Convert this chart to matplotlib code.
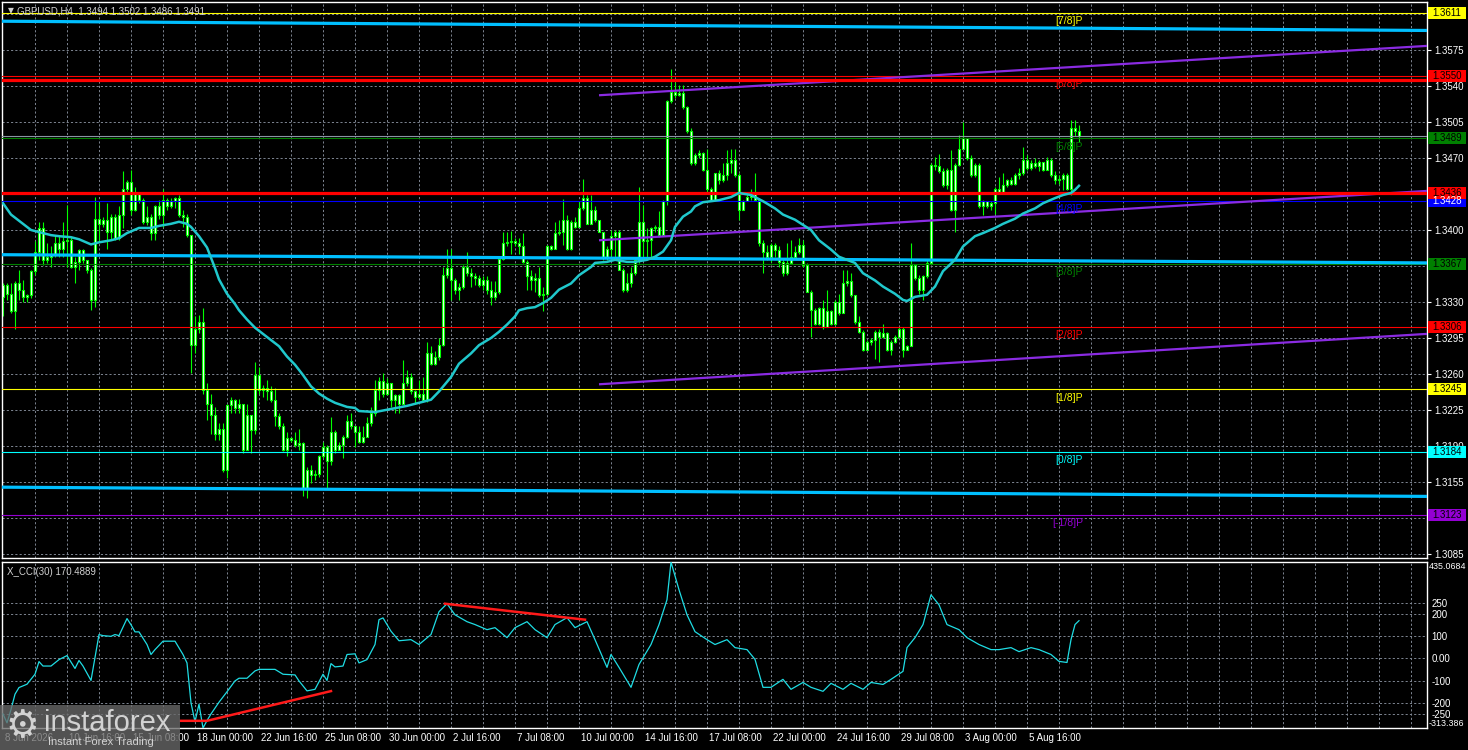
import numpy as np
import matplotlib
matplotlib.use("Agg")
import matplotlib.pyplot as plt
from matplotlib.patches import Rectangle
from matplotlib.transforms import blended_transform_factory

plt.rcParams['font.family'] = ['Liberation Sans', 'DejaVu Sans']

W, H = 1468, 750
GREEN = "#00ff00"
GRID = "#7d8591"

# GBPUSD H4 candles, bar 0 = 8 Jun 2026 00:00
first_open = 1.3335
closes = [
    1.3347, 1.3338, 1.3321, 1.3348, 1.3342, 1.3335, 1.3337, 1.3360, 1.3379, 1.3402,
    1.3371, 1.3374, 1.3377, 1.3387, 1.3382, 1.3389, 1.3390, 1.3364, 1.3369, 1.3381,
    1.3371, 1.3361, 1.3332, 1.3411, 1.3406, 1.3410, 1.3398, 1.3413, 1.3392, 1.3415,
    1.3440, 1.3447, 1.3419, 1.3436, 1.3429, 1.3408, 1.3413, 1.3397, 1.3423, 1.3415,
    1.3429, 1.3423, 1.3428, 1.3431, 1.3415, 1.3413, 1.3395, 1.3288, 1.3304, 1.3311,
    1.3244, 1.3231, 1.3220, 1.3202, 1.3207, 1.3167, 1.3230, 1.3235, 1.3227, 1.3231,
    1.3186, 1.3220, 1.3206, 1.3259, 1.3244, 1.3246, 1.3243, 1.3235, 1.3219, 1.3209,
    1.3186, 1.3198, 1.3196, 1.3191, 1.3193, 1.3149, 1.3167, 1.3162, 1.3163, 1.3180,
    1.3189, 1.3175, 1.3204, 1.3186, 1.3191, 1.3199, 1.3214, 1.3209, 1.3204, 1.3194,
    1.3199, 1.3212, 1.3222, 1.3244, 1.3253, 1.3241, 1.3251, 1.3235, 1.3240, 1.3231,
    1.3251, 1.3257, 1.3243, 1.3238, 1.3241, 1.3235, 1.3280, 1.3270, 1.3277, 1.3288,
    1.3356, 1.3363, 1.3351, 1.3342, 1.3345, 1.3364, 1.3358, 1.3355, 1.3353, 1.3347,
    1.3351, 1.3342, 1.3335, 1.3340, 1.3372, 1.3387, 1.3388, 1.3389, 1.3387, 1.3384,
    1.3369, 1.3355, 1.3351, 1.3353, 1.3337, 1.3338, 1.3384, 1.3382, 1.3397, 1.3398,
    1.3410, 1.3382, 1.3408, 1.3403, 1.3421, 1.3431, 1.3406, 1.3419, 1.3410, 1.3398,
    1.3374, 1.3382, 1.3394, 1.3398, 1.3361, 1.3342, 1.3348, 1.3358, 1.3371, 1.3408,
    1.3389, 1.3390, 1.3402, 1.3403, 1.3395, 1.3428, 1.3525, 1.3534, 1.3531, 1.3533,
    1.3520, 1.3496, 1.3465, 1.3473, 1.3475, 1.3458, 1.3440, 1.3429, 1.3455, 1.3449,
    1.3453, 1.3465, 1.3468, 1.3453, 1.3419, 1.3428, 1.3432, 1.3437, 1.3429, 1.3387,
    1.3379, 1.3374, 1.3385, 1.3381, 1.3369, 1.3358, 1.3368, 1.3374, 1.3379, 1.3385,
    1.3366, 1.3340, 1.3322, 1.3309, 1.3324, 1.3306, 1.3321, 1.3309, 1.3330, 1.3319,
    1.3348, 1.3350, 1.3337, 1.3311, 1.3301, 1.3283, 1.3291, 1.3293, 1.3301, 1.3296,
    1.3300, 1.3283, 1.3291, 1.3296, 1.3304, 1.3283, 1.3287, 1.3366, 1.3353, 1.3342,
    1.3355, 1.3368, 1.3463, 1.3462, 1.3457, 1.3444, 1.3458, 1.3419, 1.3463, 1.3479,
    1.3489, 1.3470, 1.3453, 1.3463, 1.3423, 1.3428, 1.3423, 1.3426, 1.3440, 1.3437,
    1.3444, 1.3449, 1.3445, 1.3453, 1.3455, 1.3468, 1.3460, 1.3465, 1.3462, 1.3466,
    1.3458, 1.3468, 1.3453, 1.3449, 1.3450, 1.3453, 1.3440, 1.3499, 1.3496, 1.3491,
]
highs = [
    1.3348, 1.3348, 1.3348, 1.3350, 1.3361, 1.3351, 1.3338, 1.3361, 1.3389, 1.3408,
    1.3408, 1.3387, 1.3384, 1.3395, 1.3395, 1.3408, 1.3424, 1.3393, 1.3374, 1.3382,
    1.3382, 1.3371, 1.3363, 1.3432, 1.3427, 1.3413, 1.3426, 1.3416, 1.3416, 1.3423,
    1.3457, 1.3449, 1.3458, 1.3442, 1.3437, 1.3431, 1.3423, 1.3416, 1.3424, 1.3429,
    1.3440, 1.3431, 1.3431, 1.3432, 1.3434, 1.3419, 1.3416, 1.3395, 1.3316, 1.3317,
    1.3324, 1.3251, 1.3241, 1.3228, 1.3212, 1.3212, 1.3231, 1.3238, 1.3236, 1.3236,
    1.3231, 1.3231, 1.3218, 1.3272, 1.3267, 1.3249, 1.3254, 1.3248, 1.3246, 1.3222,
    1.3212, 1.3204, 1.3199, 1.3204, 1.3207, 1.3194, 1.3170, 1.3172, 1.3167, 1.3181,
    1.3194, 1.3191, 1.3218, 1.3206, 1.3194, 1.3201, 1.3220, 1.3222, 1.3209, 1.3209,
    1.3209, 1.3218, 1.3228, 1.3254, 1.3257, 1.3261, 1.3256, 1.3248, 1.3241, 1.3241,
    1.3274, 1.3264, 1.3261, 1.3244, 1.3254, 1.3257, 1.3291, 1.3287, 1.3282, 1.3295,
    1.3364, 1.3382, 1.3382, 1.3353, 1.3348, 1.3366, 1.3379, 1.3363, 1.3358, 1.3356,
    1.3355, 1.3355, 1.3350, 1.3350, 1.3374, 1.3398, 1.3398, 1.3399, 1.3392, 1.3392,
    1.3397, 1.3371, 1.3361, 1.3358, 1.3364, 1.3345, 1.3385, 1.3385, 1.3408, 1.3410,
    1.3430, 1.3415, 1.3410, 1.3413, 1.3428, 1.3450, 1.3434, 1.3434, 1.3423, 1.3410,
    1.3385, 1.3384, 1.3400, 1.3400, 1.3400, 1.3363, 1.3358, 1.3364, 1.3374, 1.3442,
    1.3424, 1.3402, 1.3403, 1.3405, 1.3418, 1.3429, 1.3526, 1.3557, 1.3544, 1.3541,
    1.3541, 1.3521, 1.3499, 1.3475, 1.3478, 1.3476, 1.3479, 1.3442, 1.3455, 1.3458,
    1.3465, 1.3478, 1.3479, 1.3479, 1.3455, 1.3429, 1.3436, 1.3440, 1.3455, 1.3431,
    1.3390, 1.3385, 1.3387, 1.3387, 1.3384, 1.3372, 1.3387, 1.3390, 1.3384, 1.3392,
    1.3390, 1.3368, 1.3342, 1.3324, 1.3325, 1.3332, 1.3342, 1.3322, 1.3332, 1.3338,
    1.3361, 1.3361, 1.3358, 1.3337, 1.3316, 1.3303, 1.3293, 1.3295, 1.3303, 1.3304,
    1.3309, 1.3301, 1.3293, 1.3298, 1.3306, 1.3306, 1.3288, 1.3387, 1.3366, 1.3356,
    1.3356, 1.3371, 1.3465, 1.3471, 1.3474, 1.3460, 1.3460, 1.3478, 1.3465, 1.3492,
    1.3505, 1.3484, 1.3473, 1.3465, 1.3465, 1.3429, 1.3428, 1.3428, 1.3442, 1.3452,
    1.3455, 1.3450, 1.3452, 1.3455, 1.3460, 1.3481, 1.3473, 1.3468, 1.3470, 1.3468,
    1.3465, 1.3471, 1.3470, 1.3457, 1.3453, 1.3455, 1.3455, 1.3507, 1.3507, 1.3502,
]
lows = [
    1.3316, 1.3332, 1.3319, 1.3304, 1.3332, 1.3330, 1.3330, 1.3334, 1.3356, 1.3371,
    1.3366, 1.3368, 1.3364, 1.3374, 1.3374, 1.3374, 1.3364, 1.3363, 1.3348, 1.3361,
    1.3368, 1.3358, 1.3322, 1.3325, 1.3389, 1.3403, 1.3382, 1.3390, 1.3390, 1.3390,
    1.3402, 1.3436, 1.3415, 1.3418, 1.3426, 1.3406, 1.3405, 1.3390, 1.3390, 1.3411,
    1.3403, 1.3419, 1.3421, 1.3421, 1.3413, 1.3403, 1.3393, 1.3261, 1.3280, 1.3300,
    1.3241, 1.3215, 1.3202, 1.3196, 1.3196, 1.3165, 1.3159, 1.3222, 1.3222, 1.3222,
    1.3183, 1.3186, 1.3183, 1.3202, 1.3241, 1.3238, 1.3235, 1.3233, 1.3209, 1.3207,
    1.3185, 1.3180, 1.3194, 1.3189, 1.3186, 1.3141, 1.3139, 1.3154, 1.3157, 1.3160,
    1.3178, 1.3149, 1.3172, 1.3183, 1.3186, 1.3178, 1.3198, 1.3207, 1.3189, 1.3193,
    1.3193, 1.3199, 1.3209, 1.3219, 1.3235, 1.3238, 1.3240, 1.3228, 1.3222, 1.3222,
    1.3231, 1.3248, 1.3241, 1.3231, 1.3236, 1.3233, 1.3233, 1.3269, 1.3269, 1.3274,
    1.3287, 1.3353, 1.3332, 1.3338, 1.3332, 1.3343, 1.3355, 1.3345, 1.3347, 1.3345,
    1.3342, 1.3338, 1.3327, 1.3332, 1.3338, 1.3371, 1.3384, 1.3377, 1.3384, 1.3377,
    1.3368, 1.3342, 1.3342, 1.3340, 1.3335, 1.3321, 1.3337, 1.3381, 1.3384, 1.3395,
    1.3385, 1.3381, 1.3381, 1.3402, 1.3403, 1.3419, 1.3406, 1.3406, 1.3408, 1.3398,
    1.3371, 1.3371, 1.3371, 1.3371, 1.3361, 1.3340, 1.3340, 1.3345, 1.3356, 1.3368,
    1.3374, 1.3372, 1.3374, 1.3398, 1.3393, 1.3395, 1.3424, 1.3523, 1.3528, 1.3530,
    1.3518, 1.3494, 1.3463, 1.3463, 1.3470, 1.3457, 1.3437, 1.3429, 1.3429, 1.3445,
    1.3447, 1.3449, 1.3455, 1.3452, 1.3410, 1.3419, 1.3428, 1.3429, 1.3428, 1.3384,
    1.3358, 1.3371, 1.3369, 1.3374, 1.3364, 1.3355, 1.3356, 1.3368, 1.3372, 1.3377,
    1.3364, 1.3340, 1.3296, 1.3308, 1.3308, 1.3304, 1.3306, 1.3308, 1.3308, 1.3317,
    1.3325, 1.3346, 1.3335, 1.3309, 1.3300, 1.3282, 1.3283, 1.3288, 1.3275, 1.3272,
    1.3295, 1.3282, 1.3278, 1.3290, 1.3295, 1.3277, 1.3283, 1.3287, 1.3351, 1.3338,
    1.3332, 1.3353, 1.3368, 1.3458, 1.3455, 1.3442, 1.3440, 1.3418, 1.3398, 1.3462,
    1.3481, 1.3468, 1.3452, 1.3452, 1.3421, 1.3415, 1.3421, 1.3419, 1.3416, 1.3436,
    1.3436, 1.3442, 1.3444, 1.3444, 1.3450, 1.3453, 1.3458, 1.3458, 1.3460, 1.3457,
    1.3457, 1.3460, 1.3452, 1.3445, 1.3445, 1.3439, 1.3439, 1.3434, 1.3491, 1.3486,
]

# moving average (bar index, price)
ma_bars = [0, 2, 4, 7, 9, 12, 14, 17, 19, 22, 24, 27, 29, 31, 34, 37, 39, 42, 44, 46,
           47, 49, 51, 53, 54, 56, 58, 59, 61, 63, 66, 69, 71, 73, 75, 77, 79, 81, 83, 86,
           88, 89, 93, 97, 101, 104, 107, 109, 112, 114, 117, 119, 122, 124, 126, 128, 129, 131, 133, 135,
           137, 139, 142, 144, 147, 148, 151, 153, 156, 158, 161, 163, 165, 167, 168, 170, 172, 173, 175, 177,
           179, 182, 184, 187, 188, 190, 193, 195, 198, 200, 202, 204, 207, 209, 213, 215, 218, 220, 223, 225,
           226, 228, 231, 233, 235, 238, 240, 243, 245, 248, 250, 253, 255, 258, 260, 263, 265, 267, 268, 269]
ma_values = [1.3426, 1.3415, 1.3409, 1.3400, 1.3398, 1.3395, 1.3394, 1.3393, 1.3391, 1.3386,
             1.3388, 1.3390, 1.3392, 1.3397, 1.3402, 1.3402, 1.3404, 1.3406, 1.3408, 1.3406,
             1.3403, 1.3394, 1.3383, 1.3363, 1.3352, 1.3338, 1.3328, 1.3322, 1.3313, 1.3305,
             1.3296, 1.3287, 1.3277, 1.3269, 1.3259, 1.3248, 1.3241, 1.3236, 1.3232, 1.3228,
             1.3227, 1.3224, 1.3223, 1.3226, 1.3229, 1.3232, 1.3235, 1.3243, 1.3257, 1.3270,
             1.3280, 1.3288, 1.3295, 1.3301, 1.3308, 1.3316, 1.3322, 1.3324, 1.3325, 1.3329,
             1.3334, 1.3342, 1.3348, 1.3356, 1.3364, 1.3368, 1.3369, 1.3371, 1.3369, 1.3369,
             1.3371, 1.3374, 1.3379, 1.3390, 1.3403, 1.3413, 1.3418, 1.3423, 1.3427, 1.3428,
             1.3429, 1.3432, 1.3436, 1.3434, 1.3432, 1.3428, 1.3421, 1.3415, 1.3410, 1.3405,
             1.3400, 1.3390, 1.3381, 1.3374, 1.3368, 1.3358, 1.3351, 1.3345, 1.3338, 1.3332,
             1.3331, 1.3335, 1.3337, 1.3345, 1.3360, 1.3371, 1.3384, 1.3394, 1.3397, 1.3402,
             1.3406, 1.3411, 1.3416, 1.3421, 1.3426, 1.3431, 1.3434, 1.3436, 1.3439, 1.3443]

# X_CCI(30)
cci_bars = [0, 1, 2, 3, 4, 6, 8, 9, 10, 12, 14, 16, 18, 19, 20, 22, 24, 25, 27, 28,
            29, 31, 32, 33, 34, 36, 37, 38, 40, 43, 45, 46, 47, 48, 49, 50, 51, 52, 54, 56,
            58, 59, 61, 63, 64, 68, 70, 73, 74, 76, 78, 80, 81, 82, 83, 85, 86, 88, 89, 91,
            93, 94, 95, 97, 99, 102, 104, 107, 109, 111, 113, 116, 118, 121, 123, 126, 128, 131, 133, 136,
            138, 141, 143, 146, 148, 151, 152, 154, 157, 159, 162, 164, 166, 167, 169, 171, 173, 176, 178, 181,
            183, 186, 188, 190, 192, 195, 197, 200, 202, 205, 207, 210, 212, 215, 217, 220, 222, 225, 226, 228,
            230, 232, 234, 236, 239, 241, 244, 247, 249, 252, 254, 257, 259, 262, 264, 266, 267, 268, 269]
cci_values = [-250, -290, -230, -161, -131, -116, -71, -14, -34, -34, -5, 13, -45, -9, -34, -99, 108, 103, 100, 108,
              103, 180, 152, 120, 120, 63, 18, 40, 78, 78, 18, -20, -200, -285, -206, -313.39, -280, -250, -197, -150,
              -101, -89, -89, -56, -49, -49, -71, -74, -101, -146, -139, -71, -99, -23, -38, -34, 18, 21, -20, -5,
              63, 175, 183, 123, 80, 85, 63, 108, 211, 247, 197, 166, 153, 130, 139, 94, 139, 166, 130, 94,
              153, 184, 139, 166, 85, -40, 18, -40, -130, -27, 63, 153, 265, 435.07, 310, 197, 121, 85, 63, 85,
              49, 40, -4, -130, -130, -94, -139, -108, -130, -148, -112, -139, -112, -139, -108, -117, -94, -58, 49, 94,
              153, 287, 242, 153, 130, 94, 63, 40, 40, 49, 31, 49, 40, 18, -13, -18, 85, 153, 170.49]

# red divergence lines on the CCI
cci_red_1_bars = [44.5, 51, 82]
cci_red_1_values = [-281, -281, -147]
cci_red_2_bars = [110.5, 145.5]
cci_red_2_values = [247, 175]

date_labels = ["8 Jun 2026", "10 Jun 16:00", "15 Jun 08:00", "18 Jun 00:00", "22 Jun 16:00",
               "25 Jun 08:00", "30 Jun 00:00", "2 Jul 16:00", "7 Jul 08:00", "10 Jul 00:00",
               "14 Jul 16:00", "17 Jul 08:00", "22 Jul 00:00", "24 Jul 16:00", "29 Jul 08:00",
               "3 Aug 00:00", "5 Aug 16:00"]
date_bars = [0, 16, 32, 48, 64, 80, 96, 112, 128, 144, 160, 176, 192, 208, 224, 240, 256]

murrey_levels = [1.3123, 1.3184, 1.3245, 1.3306, 1.3367, 1.3428, 1.3489, 1.3550, 1.3611]
murrey_names = ["[-1/8]P", "[0/8]P", "[1/8]P", "[2/8]P", "[3/8]P", "[4/8]P", "[5/8]P", "[6/8]P", "[7/8]P"]
murrey_colors = ["#9400d3", "#00ffff", "#ffff00", "#ff0000", "#008000", "#0000ff", "#008000", "#ff0000", "#ffff00"]
murrey_text = ["black", "black", "black", "black", "black", "white", "black", "black", "black"]

red_levels = [1.3546, 1.3436]

# thick blue trend lines (start bar, end bar, start price, end price)
cyan_lines = [(-1, 356, 1.3603, 1.3594), (-1, 356, 1.3376, 1.3368), (-1, 356, 1.3150, 1.3141)]
# purple channel
purple_lines = [(149, 356, 1.3531, 1.3579), (149, 356, 1.3390, 1.3438), (149, 356, 1.3250, 1.3299)]

bid_price = 1.3491
price_ticks = [1.3085 + 0.0035 * k for k in range(16)]
# scale labels that sit fully under a coloured price box
hidden_ticks = ["1.3120", "1.3365", "1.3435", "1.3610"]
cci_ticks = [250, 200, 100, 0, -100, -200, -250]

PRICE_TOP, PRICE_BOTTOM = 1.362167, 1.308111
CCI_TOP, CCI_BOTTOM = 435.0684, -313.386
X_LEFT, X_RIGHT = -0.25, 356


def add_panel(fig, left, top, right, bottom):
    """Adds an axes placed in pixel units (top-left origin)"""
    ax = fig.add_axes([left / W, 1 - bottom / H, (right - left) / W, (bottom - top) / H])
    ax.set_facecolor("black")
    for s in ax.spines.values():
        s.set_color("white")
        s.set_linewidth(1)
    ax.set_xlim(X_LEFT, X_RIGHT)
    ax.set_xticks([])
    ax.yaxis.tick_right()
    ax.tick_params(axis="y", colors="white", labelsize=7, length=3, width=0.8, pad=2)
    for b in range(8, 356, 8):
        ax.axvline(b, color=GRID, lw=0.7, ls=(0, (2.2, 2.2)), zorder=0.5)
    return ax


fig = plt.figure(figsize=(W / 100, H / 100), dpi=100, facecolor="black")
ax = add_panel(fig, 2, 2, 1427, 558)
ax2 = add_panel(fig, 2, 562, 1427, 728)

# ---- price panel ----
ax.set_ylim(PRICE_BOTTOM, PRICE_TOP)
ax.set_yticks(price_ticks)
tick_text = ["%.4f" % t for t in price_ticks]
ax.set_yticklabels(["" if s in hidden_ticks else s for s in tick_text])
for t in price_ticks:
    ax.axhline(t, color=GRID, lw=0.7, ls=(0, (2.2, 2.2)), zorder=0.5)

n = min(len(closes), len(highs), len(lows))
c = np.array(closes[:n])
o = np.array([first_open] + closes[:n - 1])
hi = np.maximum(np.array(highs[:n]), np.maximum(o, c))
lo = np.minimum(np.array(lows[:n]), np.minimum(o, c))
bars = np.arange(n)

ax.vlines(bars, lo, hi, color=GREEN, lw=0.8, zorder=2)
body_low = np.minimum(o, c)
body_h = np.maximum(np.abs(c - o), 0.00002)
ax.bar(bars, body_h, bottom=body_low, width=0.66, color="white",
       edgecolor=GREEN, linewidth=0.8, zorder=2.1)

ax.plot(ma_bars, ma_values, color="#20c8cc", lw=1.8, zorder=4)

for lvl, col in zip(murrey_levels, murrey_colors):
    ax.axhline(lvl, color=col, lw=0.8, zorder=3)
ax.axhline(bid_price, color="#8a96a3", lw=0.8, zorder=3)
for lvl in red_levels:
    ax.axhline(lvl, color="#ff0000", lw=2.3, zorder=3.2)
for b0, b1, p0, p1 in cyan_lines:
    ax.plot([b0, b1], [p0, p1], color="#00bfff", lw=2.3, zorder=3.1, solid_capstyle="butt")
for b0, b1, p0, p1 in purple_lines:
    ax.plot([b0, b1], [p0, p1], color="#8a2be2", lw=1.6, zorder=3.1, solid_capstyle="butt")

for lvl, name, col in zip(murrey_levels, murrey_names, murrey_colors):
    ax.text(270, lvl - 0.0003, name, color=col, fontsize=7.5, ha="right", va="top", zorder=5)

# coloured price boxes on the right scale
trans = blended_transform_factory(ax.transAxes, ax.transData)
box_h = 12 / 10285.7
box_levels = murrey_levels + [1.3436]
box_colors = murrey_colors + ["#ff0000"]
box_text = murrey_text + ["black"]
for lvl, col, tc in zip(box_levels, box_colors, box_text):
    ax.add_patch(Rectangle((1 + 1 / 1425, lvl - box_h / 2), 38 / 1425, box_h, transform=trans,
                           facecolor=col, edgecolor="none", clip_on=False, zorder=6))
    ax.text(1 + 20 / 1425, lvl, "%.4f" % lvl, transform=trans, color=tc, fontsize=7,
            ha="center", va="center", clip_on=False, zorder=7)

ax.text(6 / 1425, 1 - 9 / 556, "\u25bc", transform=ax.transAxes, color="#d0d0d0",
        fontsize=5.5, ha="left", va="center", family=["DejaVu Sans"])
ax.text(15 / 1425, 1 - 9 / 556, "GBPUSD,H4  1.3494 1.3502 1.3486 1.3491", transform=ax.transAxes,
        color="#d0d0d0", fontsize=7, ha="left", va="center", zorder=8)

# ---- CCI panel ----
ax2.set_ylim(CCI_BOTTOM, CCI_TOP)
ax2.set_yticks(cci_ticks)
ax2.set_yticklabels(["0.00" if v == 0 else str(v) for v in cci_ticks])
ax2.tick_params(axis="y", length=0, pad=3)
for v in cci_ticks:
    ax2.axhline(v, color=GRID, lw=0.7, ls=(0, (2.2, 2.2)), zorder=0.5)
ax2.plot(cci_bars, cci_values, color="#1fdde4", lw=0.9, zorder=3)
ax2.plot(cci_red_1_bars, cci_red_1_values, color="#ff1a1a", lw=1.8, zorder=4)
ax2.plot(cci_red_2_bars, cci_red_2_values, color="#ff1a1a", lw=1.8, zorder=4)

t2 = blended_transform_factory(ax2.transAxes, ax2.transData)
ax2.text(1 + 2 / 1425, CCI_TOP, "435.0684", transform=t2, color="white", fontsize=6.4,
         ha="left", va="top", clip_on=False)
ax2.text(1 + 2 / 1425, CCI_BOTTOM, "-313.386", transform=t2, color="white", fontsize=6.4,
         ha="left", va="bottom", clip_on=False)
ax2.text(5 / 1425, 1 - 10 / 166, "X_CCI(30) 170.4889", transform=ax2.transAxes,
         color="#d0d0d0", fontsize=7, ha="left", va="center")

# ---- time axis ----
for lab, b in zip(date_labels, date_bars):
    fig.text((3 + 4 * b + 2) / W, 1 - 738 / H, lab, color="white", fontsize=7,
             ha="left", va="center")

# ---- watermark ----
fig.add_artist(Rectangle((0, 0), 180 / W, 45 / H, transform=fig.transFigure,
                         facecolor="#6a6a6a", edgecolor="none", alpha=0.78, zorder=10))
fig.text(22 / W, 1 - 727 / H, "\u2699", family=["DejaVu Sans"], fontsize=27, color="#d2d2d2",
         ha="center", va="center", zorder=11)
fig.text(44 / W, 1 - 723 / H, "instaforex", fontsize=21, color="#d2d2d2",
         ha="left", va="center", zorder=11)
fig.text(48 / W, 1 - 742 / H, "Instant Forex Trading", fontsize=8, color="#d2d2d2",
         ha="left", va="center", zorder=11)

fig.savefig("out.png", dpi=100, facecolor="black")
